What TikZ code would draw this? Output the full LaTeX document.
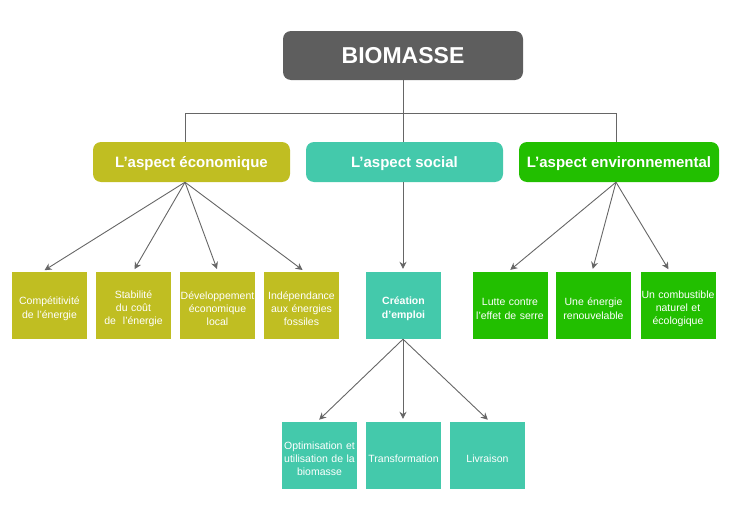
\documentclass[tikz,border=0pt]{standalone}
\usepackage{fontspec}
\setmainfont{Liberation Sans}
\usetikzlibrary{arrows.meta,positioning}
\definecolor{titlegrey}{HTML}{5E5E5E}
\definecolor{ecocol}{HTML}{C0BE22}
\definecolor{soccol}{HTML}{44C9AB}
\definecolor{envcol}{HTML}{22BF00}
\definecolor{linegrey}{HTML}{666666}
\begin{document}
\begin{tikzpicture}[
    x=1pt, y=-1pt,
    title/.style={rectangle, rounded corners=8pt, fill=titlegrey, text=white,
                  minimum width=240pt, minimum height=49pt, text height=16.5pt, text depth=0pt,
                  font=\fontsize{23}{26}\selectfont\bfseries},
    aspect/.style={rectangle, rounded corners=8pt, text=white, inner sep=0pt,
                   minimum height=40pt, text height=11pt, text depth=0pt,
                   font=\fontsize{15}{18}\selectfont\bfseries},
    leaf/.style={rectangle, text=white, align=center, inner sep=0pt,
                 minimum width=75pt, minimum height=67pt, text width=75pt,
                 execute at begin node={\rule{0pt}{14pt}},
                 font=\fontsize{10.5}{13.3}\selectfont},
    link/.style={linegrey, line width=0.9pt},
    arrow/.style={link, -{Stealth[length=7pt,width=7pt]}, shorten >=3pt}
  ]
    \useasboundingbox (0,0) rectangle (729,522);
    % top level
    \node[title] (bio) at (403,55.5) {BIOMASSE};
    % aspects
    \node[aspect, fill=ecocol, minimum width=197pt] (eco) at (191.5,162) {L’aspect économique};
    \node[aspect, fill=soccol, minimum width=197pt] (soc) at (404.5,162) {L’aspect social};
    \node[aspect, fill=envcol, minimum width=200pt] (env) at (619,162) {L’aspect environnemental};
    % economic leaves
    \node[leaf, fill=ecocol] (comp)  at (49.5,305.5)  {Compétitivité\\de l'énergie};
    \node[leaf, fill=ecocol] (stab)  at (133.5,305.5) {Stabilité\\du coût\\de~~l'énergie};
    \node[leaf, fill=ecocol] (dev)   at (217.5,305.5) {Développement\\économique\\local};
    \node[leaf, fill=ecocol] (indep) at (301.5,305.5) {Indépendance\\aux énergies\\fossiles};
    % social leaves
    \node[leaf, fill=soccol, font=\fontsize{10.5}{13.3}\selectfont\bfseries] (crea) at (403.5,305.5) {Création\\d’emploi};
    \node[leaf, fill=soccol] (optim) at (319.5,455.5) {Optimisation et\\utilisation de la\\biomasse};
    \node[leaf, fill=soccol] (trans) at (403.5,455.5) {Transformation};
    \node[leaf, fill=soccol] (livr)  at (487.5,455.5) {Livraison};
    % environmental leaves
    \node[leaf, fill=envcol] (serre) at (510,305.5) {Lutte contre\\l'effet de serre};
    \node[leaf, fill=envcol] (renouv) at (593.5,305.5) {Une énergie\\renouvelable};
    \node[leaf, fill=envcol] (comb)  at (678,305.5) {Un combustible\\naturel et\\écologique};
    % tree connectors
    \coordinate (junc) at (403,113);
    \coordinate (ecoroot) at ([xshift=-6.5pt]eco.south);
    \coordinate (envroot) at ([xshift=-3pt]env.south);
    \draw[link] (bio.south) -- (junc);
    \draw[link] ([xshift=-6.5pt]eco.north) |- (junc);
    \draw[link] ([xshift=-3pt]env.north) |- (junc);
    \draw[link] (junc) -- (junc |- soc.north);
    % arrows
    \foreach \leafname/\dx in {comp/-7.5,stab/-0.5,dev/0.5,indep/3.5}
      \draw[arrow] (ecoroot) -- ([xshift=\dx pt]\leafname.north);
    \foreach \leafname/\dx in {serre/-2,renouv/-1.5,comb/-8}
      \draw[arrow] (envroot) -- ([xshift=\dx pt]\leafname.north);
    \draw[arrow] (soc.south -| junc) -- (crea.north -| junc);
    \foreach \leafname/\dx in {optim/-2.5,trans/-0.5,livr/2.5}
      \draw[arrow] (crea.south -| junc) -- ([xshift=\dx pt]\leafname.north);
  \end{tikzpicture}
\end{document}
